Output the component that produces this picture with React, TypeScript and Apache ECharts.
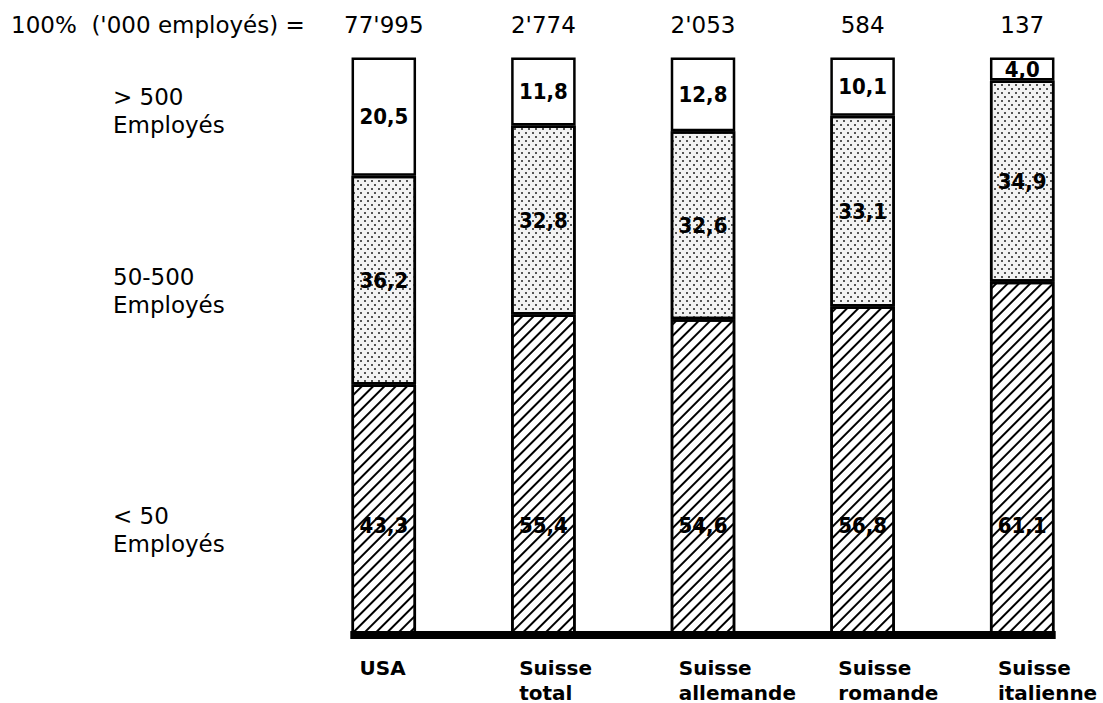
import React, { useEffect, useRef } from 'react';
import * as echarts from 'echarts';

// Regions (bottom labels) and workforce totals in thousands (top labels)
const regions = ['USA', 'Suisse\ntotal', 'Suisse\nallemande', 'Suisse\nromande', 'Suisse\nitalienne'];
const totals = ["77'995", "2'774", "2'053", '584', '137'];

// Share of employees (%) by company size
const sizeClasses = ['< 50\nEmployés', '50-500\nEmployés', '> 500\nEmployés'];
const smallFirms = [43.3, 55.4, 54.6, 56.8, 61.1];
const mediumFirms = [36.2, 32.8, 32.6, 33.1, 34.9];
const largeFirms = [20.5, 11.8, 12.8, 10.1, 4.0];

const headerText = "100%  ('000 employés) =";

const REGULAR = "'DejaVu Sans', sans-serif";
const CONDENSED = "'DejaVu Sans Condensed', 'DejaVu Sans', sans-serif";

export default function App() {
  const ref = useRef<HTMLDivElement>(null);

  useEffect(() => {
    if (!ref.current) return;
    const chart = echarts.init(ref.current, null, { renderer: 'svg' });
    const BAR_W = 64.5;
    const BORDER = 2.5;

    const fmt = (p: any) => Number(p.value).toFixed(1).replace('.', ',');
    const labelBase = {
      show: true,
      formatter: fmt,
      fontFamily: CONDENSED,
      fontWeight: 'bold' as const,
      fontSize: 22,
      color: '#000',
    };
    const itemBase = { borderColor: '#000', borderWidth: BORDER };

    chart.setOption({
      animation: false,
      backgroundColor: '#fff',
      grid: { left: 304, right: 1, top: 57.5, bottom: 69 },
      xAxis: [
        {
          type: 'category',
          data: regions,
          axisLine: { show: false },
          axisTick: { show: false },
          axisLabel: { show: false },
        },
        {
          type: 'category',
          position: 'top',
          data: totals,
          axisLine: { show: false },
          axisTick: { show: false },
          axisLabel: { fontFamily: REGULAR, fontSize: 23, color: '#000', margin: 21 },
        },
      ],
      yAxis: { type: 'value', min: 0, max: 100, show: false },
      series: [
        {
          name: sizeClasses[0],
          type: 'bar',
          stack: 'share',
          barWidth: BAR_W,
          data: smallFirms,
          itemStyle: {
            ...itemBase,
            color: '#fff',
            decal: {
              symbol: 'rect',
              symbolSize: 1,
              color: '#000',
              dashArrayX: [1, 0],
              dashArrayY: [1.6, 5.4],
              rotation: -Math.PI / 4,
            },
          },
          label: { ...labelBase, position: 'insideBottom', distance: 98 },
        },
        {
          name: sizeClasses[1],
          type: 'bar',
          stack: 'share',
          barWidth: BAR_W,
          data: mediumFirms,
          itemStyle: {
            ...itemBase,
            color: '#f3f3f3',
            decal: {
              symbol: 'rect',
              symbolSize: 1,
              color: '#555',
              dashArrayX: [[1.5, 4.5], [0, 3, 1.5, 1.5]],
              dashArrayY: [1.5, 1.5],
            },
          },
          label: { ...labelBase, position: 'inside' },
        },
        {
          name: sizeClasses[2],
          type: 'bar',
          stack: 'share',
          barWidth: BAR_W,
          data: largeFirms,
          itemStyle: { ...itemBase, color: '#fff' },
          label: { ...labelBase, position: 'inside' },
        },
      ],
    });

    const xs = regions.map((r) => chart.convertToPixel({ xAxisIndex: 0 }, r) as number);
    const yBase = chart.convertToPixel({ yAxisIndex: 0 }, 0) as number;
    const half = BAR_W / 2 + BORDER / 2;

    // Left-hand captions for each size class, placed beside the USA segments
    const captionY = [530, 291, 111];

    chart.setOption({
      graphic: [
        {
          type: 'rect',
          z: 100,
          shape: { x: xs[0] - half, y: yBase - 3, width: xs[xs.length - 1] - xs[0] + 2 * half, height: 8 },
          style: { fill: '#000' },
        },
        {
          type: 'text',
          x: 11,
          y: 25,
          style: {
            text: headerText,
            fontFamily: REGULAR,
            fontSize: 23,
            fill: '#000',
            verticalAlign: 'middle',
          },
        },
        ...sizeClasses.map((s, i) => ({
          type: 'text',
          x: 113,
          y: captionY[i],
          style: {
            text: s,
            fontFamily: REGULAR,
            fontSize: 23,
            lineHeight: 28,
            fill: '#000',
            verticalAlign: 'middle',
          },
        })),
        ...regions.map((r, i) => ({
          type: 'text',
          x: xs[i] - BAR_W / 2 + 8,
          y: yBase + 21,
          style: {
            text: r,
            fontFamily: REGULAR,
            fontWeight: 'bold',
            fontSize: 20,
            lineHeight: 25,
            fill: '#000',
            verticalAlign: 'top',
          },
        })),
      ],
    });

    return () => chart.dispose();
  }, []);

  return (
    <div
      ref={ref}
      style={{ position: 'absolute', left: 0, top: 0, width: 1103, height: 703, background: '#fff' }}
    />
  );
}
